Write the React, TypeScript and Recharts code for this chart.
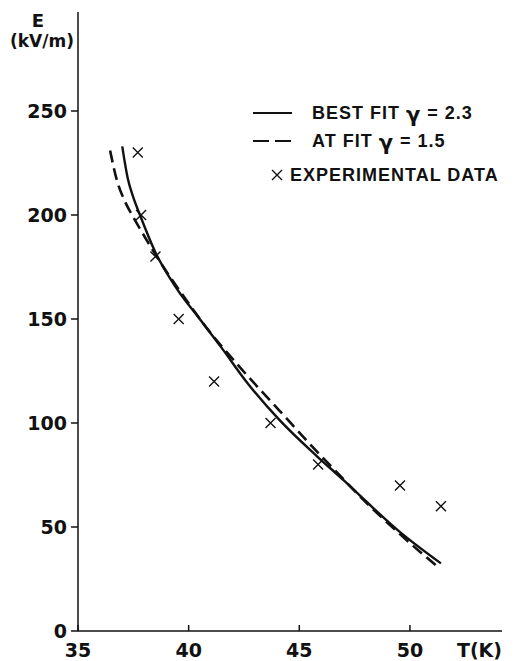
import { ComposedChart, Line, Scatter, XAxis, YAxis, Legend } from "recharts";

// temperature (K) / field (kV/m)
const bestFitT = [37.0, 37.12, 37.25, 37.5, 37.8, 38.5, 39.5, 40.5, 41.5, 42.6, 44.1, 45.8, 47.0, 48.0, 49.5, 51.4];
const bestFitE = [233, 225, 217.5, 208.5, 200, 182, 164, 150, 136, 120, 101.5, 84, 72.5, 62.5, 48, 32.5];

const atFitT = [36.45, 36.75, 37.1, 37.5, 38.1, 38.5, 39.9, 40.65, 42.3, 44.1, 45.6, 46.5, 48.0, 49.5, 51.35];
const atFitE = [231, 217, 207, 199, 188, 181, 159, 148, 127, 106, 88.5, 78.5, 62, 47, 30];

const expT = [37.7, 37.85, 38.5, 39.55, 41.15, 43.7, 45.85, 49.55, 51.4];
const expE = [230, 200, 180, 150, 120, 100, 80, 70, 60];

const xTicks = [35, 40, 45, 50];
const yTicks = [0, 50, 100, 150, 200, 250];

const zip = (ts: number[], es: number[]) => ts.map((t, i) => ({ t, e: es[i] }));
const bestFit = zip(bestFitT, bestFitE);
const atFit = zip(atFitT, atFitE);
const experimental = zip(expT, expE);

const INK = "#111";
const TICK_FONT = { fontFamily: "DejaVu Sans", fontWeight: "bold", fontSize: 19, fill: INK } as const;
const LEGEND_FONT = "Liberation Sans";

const Cross = ({ cx, cy }: any) => {
  const r = 5;
  return (
    <path
      d={`M${cx - r},${cy - r}L${cx + r},${cy + r}M${cx - r},${cy + r}L${cx + r},${cy - r}`}
      stroke={INK}
      strokeWidth={1.4}
      fill="none"
    />
  );
};

// x ticks point up into the plot, labels sit below the axis
const XTick = ({ x, y, payload }: any) => (
  <g>
    <line x1={x} y1={y - 6} x2={x} y2={y} stroke={INK} strokeWidth={1.5} />
    <text x={x} y={y + 26} textAnchor="middle" {...TICK_FONT}>
      {payload.value}
    </text>
  </g>
);

const XLabel = ({ viewBox }: any) => (
  <text x={viewBox.x + viewBox.width} y={viewBox.y + 26} textAnchor="end" {...TICK_FONT}>
    T(K)
  </text>
);

const YLabel = ({ viewBox }: any) => (
  <g {...TICK_FONT} fontSize={18}>
    <text x={viewBox.x + 38} y={viewBox.y + 15} textAnchor="middle">
      E
    </text>
    <text x={viewBox.x + 42} y={viewBox.y + 35} textAnchor="middle" fontSize={17}>
      (kV/m)
    </text>
  </g>
);

const Gamma = () => (
  <tspan fontFamily="DejaVu Sans" fontSize={21} dy={3}>
    γ
  </tspan>
);

const LegendBox = () => (
  <svg width={271} height={100} style={{ display: "block" }}>
    <g fontFamily={LEGEND_FONT} fontWeight="bold" fontSize={18} fill={INK} letterSpacing={1}>
      <line x1={3} y1={18} x2={42} y2={18} stroke={INK} strokeWidth={2} />
      <text x={62} y={24}>
        BEST FIT <Gamma />
        <tspan dy={-3}> = 2.3</tspan>
      </text>
      <line x1={3} y1={46} x2={42} y2={46} stroke={INK} strokeWidth={2} strokeDasharray="16 6" />
      <text x={62} y={52}>
        AT FIT <Gamma />
        <tspan dy={-3}> = 1.5</tspan>
      </text>
      <Cross cx={27} cy={80} />
      <text x={40} y={86}>
        EXPERIMENTAL DATA
      </text>
    </g>
  </svg>
);

export default function App() {
  return (
    <div style={{ position: "absolute", left: 0, top: 0, background: "#fff" }}>
      <ComposedChart width={521} height={661} margin={{ top: 12, right: 19, bottom: 0, left: 0 }}>
        <XAxis
          type="number"
          dataKey="t"
          domain={[35, 54.16]}
          ticks={xTicks}
          height={30}
          tickSize={0}
          tickMargin={0}
          tickLine={false}
          tick={<XTick />}
          axisLine={{ stroke: INK, strokeWidth: 1.5 }}
          label={<XLabel />}
          allowDataOverflow
        />
        <YAxis
          type="number"
          domain={[0, 297.6]}
          ticks={yTicks}
          width={78}
          tickSize={7}
          tickMargin={4}
          tick={TICK_FONT}
          tickLine={{ stroke: INK, strokeWidth: 1.5 }}
          axisLine={{ stroke: INK, strokeWidth: 1.5 }}
          label={<YLabel />}
          allowDataOverflow
        />
        <Legend
          layout="horizontal"
          verticalAlign="middle"
          content={<LegendBox />}
          wrapperStyle={{ left: 250, top: 95, width: 271, height: 100 }}
        />
        <Line
          data={bestFit}
          dataKey="e"
          type="monotone"
          stroke={INK}
          strokeWidth={2.4}
          dot={false}
          activeDot={false}
          isAnimationActive={false}
        />
        <Line
          data={atFit}
          dataKey="e"
          type="monotone"
          stroke={INK}
          strokeWidth={2.6}
          strokeDasharray="12 6"
          dot={false}
          activeDot={false}
          isAnimationActive={false}
        />
        <Scatter data={experimental} dataKey="e" shape={<Cross />} isAnimationActive={false} />
      </ComposedChart>
    </div>
  );
}
